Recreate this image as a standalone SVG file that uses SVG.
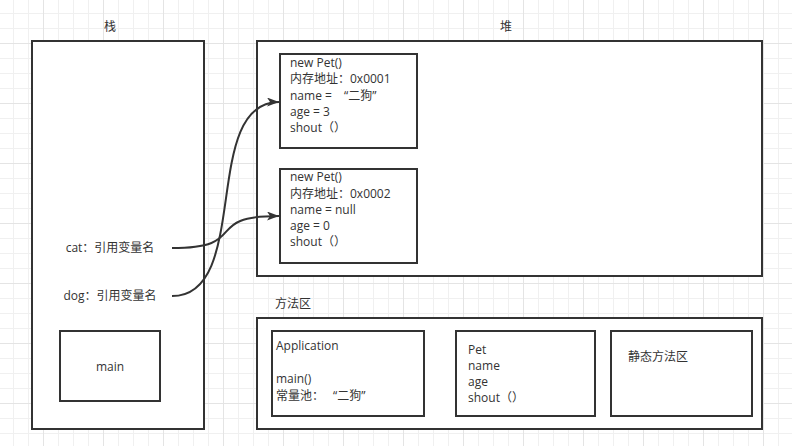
<svg xmlns="http://www.w3.org/2000/svg" width="792" height="446" viewBox="0 0 792 446">
<defs>
<pattern id="gMinor" patternUnits="userSpaceOnUse" x="13" y="13" width="15" height="15">
<path d="M0.5,0 V15 M0,0.5 H15" stroke="#f0f0f0" stroke-width="1" fill="none"/>
</pattern>
<pattern id="gMajor" patternUnits="userSpaceOnUse" x="43" y="43" width="60" height="60">
<path d="M0.5,0 V60 M0,0.5 H60" stroke="#e4e4e4" stroke-width="1" fill="none"/>
</pattern>
<marker id="arr" markerUnits="userSpaceOnUse" markerWidth="14" markerHeight="10" refX="12" refY="4.5" orient="auto">
<path d="M0,0 L12,4.5 L0,9 L3,4.5 Z" fill="#333"/>
</marker>
</defs>
<style>
.box{fill:#fff;stroke:#333;stroke-width:2}
.t{font-family:"Open Sans","Noto Sans CJK SC",sans-serif;font-size:12px;fill:#333}
.c{text-anchor:middle}
.edge{fill:none;stroke:#333;stroke-width:2}
</style>
<rect width="792" height="446" fill="#fff"/>
<rect width="792" height="446" fill="url(#gMinor)"/>
<rect width="792" height="446" fill="url(#gMajor)"/>

<text class="t c" x="110" y="31">栈</text>
<text class="t c" x="506" y="31">堆</text>
<text class="t" x="275" y="308">方法区</text>

<g id="stack">
<rect class="box" x="32" y="41" width="172" height="388"/>
<text class="t c" x="110" y="252">cat：引用变量名</text>
<text class="t c" x="110" y="300">dog：引用变量名</text>
</g>
<g id="main">
<rect class="box" x="60" y="331" width="100" height="70"/>
<text class="t c" x="110" y="371">main</text>
</g>

<g id="heap">
<rect class="box" x="257" y="41" width="505" height="235"/>
</g>
<g id="pet1">
<rect class="box" x="280" y="54" width="137" height="94"/>
<text class="t" x="290" y="66.5">new Pet()</text>
<text class="t" x="290" y="83">内存地址：0x0001</text>
<text class="t" x="290" y="99.5">name = <tspan dx="9">“二狗”</tspan></text>
<text class="t" x="290" y="115.5">age = 3</text>
<text class="t" x="290" y="131.5">shout（）</text>
</g>
<g id="pet2">
<rect class="box" x="280" y="169" width="137" height="94"/>
<text class="t" x="290" y="181">new Pet()</text>
<text class="t" x="290" y="197.5">内存地址：0x0002</text>
<text class="t" x="290" y="214">name = null</text>
<text class="t" x="290" y="229.5">age = 0</text>
<text class="t" x="290" y="246">shout（）</text>
</g>

<g id="method-area">
<rect class="box" x="257" y="318" width="505" height="111"/>
</g>
<g id="application">
<rect class="box" x="272" y="331" width="152" height="85"/>
<text class="t" x="276" y="349.5">Application</text>
<text class="t" x="276" y="383">main()</text>
<text class="t" x="276" y="399.5">常量池：<tspan dx="9">“二狗”</tspan></text>
</g>
<g id="pet-class">
<rect class="box" x="456" y="331" width="139" height="85"/>
<text class="t" x="468" y="353.5">Pet</text>
<text class="t" x="468" y="370">name</text>
<text class="t" x="468" y="386">age</text>
<text class="t" x="468" y="401.5">shout（）</text>
</g>
<g id="static-area">
<rect class="box" x="611" y="331" width="141" height="85"/>
<text class="t" x="628" y="361">静态方法区</text>
</g>

<g id="connectors">
<path class="edge" d="M172,248 C252,248 200,216 279,216" marker-end="url(#arr)"/>
<path class="edge" d="M172,296 C252,296 200,102 279,102" marker-end="url(#arr)"/>
</g>
</svg>
